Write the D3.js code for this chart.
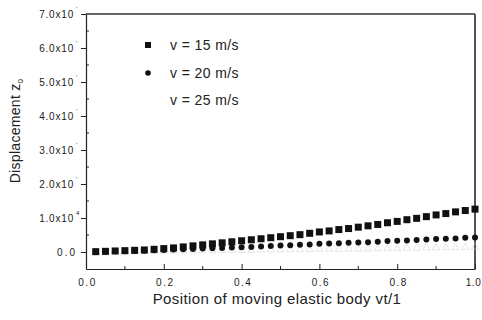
<!DOCTYPE html>
<html>
<head>
<meta charset="utf-8">
<script src="https://cdn.jsdelivr.net/npm/d3@7"></script>
<style>
  body { margin: 0; background: #fff; }
  text { font-family: "Liberation Sans", Arial, sans-serif; fill: #222; }
</style>
</head>
<body>
<div id="chart"></div>
<script>
// positions along the body (vt/l)
const positions = [0.025, 0.05, 0.075, 0.1, 0.125, 0.15, 0.175, 0.2, 0.225, 0.25,
  0.275, 0.3, 0.325, 0.35, 0.375, 0.4, 0.425, 0.45, 0.475, 0.5,
  0.525, 0.55, 0.575, 0.6, 0.625, 0.65, 0.675, 0.7, 0.725, 0.75,
  0.775, 0.8, 0.825, 0.85, 0.875, 0.9, 0.925, 0.95, 0.975, 1.0];

// displacement, in units of 1e-4 (axis ticks are 1.0x10^4 etc)
const v15 = [0.1, 0.2, 0.3, 0.4, 0.5, 0.6, 0.8, 1.0, 1.2, 1.5,
  1.8, 2.1, 2.4, 2.7, 3.0, 3.3, 3.6, 3.9, 4.2, 4.5,
  4.8, 5.1, 5.5, 5.9, 6.2, 6.6, 6.9, 7.3, 7.7, 8.1,
  8.6, 9.0, 9.5, 9.9, 10.4, 10.9, 11.3, 11.8, 12.2, 12.6];
const v20 = [0.1, 0.1, 0.2, 0.2, 0.3, 0.4, 0.5, 0.6, 0.7, 0.8,
  0.9, 1.0, 1.1, 1.2, 1.3, 1.4, 1.5, 1.6, 1.8, 1.9,
  2.0, 2.1, 2.2, 2.4, 2.5, 2.6, 2.7, 2.8, 2.9, 3.0,
  3.2, 3.3, 3.4, 3.5, 3.7, 3.8, 3.9, 4.0, 4.2, 4.3];
const v25 = [0.0, 0.0, 0.1, 0.1, 0.1, 0.2, 0.2, 0.2, 0.3, 0.3,
  0.3, 0.4, 0.4, 0.4, 0.5, 0.5, 0.5, 0.6, 0.6, 0.6,
  0.7, 0.7, 0.7, 0.8, 0.8, 0.8, 0.9, 0.9, 0.9, 1.0,
  1.0, 1.0, 1.1, 1.1, 1.2, 1.2, 1.3, 1.3, 1.4, 1.4];

const seriesNames = ["v = 15 m/s", "v = 20 m/s", "v = 25 m/s"];
const xTicks = [0, 0.2, 0.4, 0.6, 0.8, 1.0];
const xTickLabels = ["0.0", "0.2", "0.4", "0.6", "0.8", "1.0"];
const yTicks = [0, 10, 20, 30, 40, 50, 60, 70];
const yTickLabels = ["0.0", "1.0x10", "2.0x10", "3.0x10", "4.0x10", "5.0x10", "6.0x10", "7.0x10"];

const width = 482, height = 320;
const plotLeft = 86, plotRight = 475, plotTop = 14, plotBottom = 269;

const svg = d3.select('#chart').append('svg')
  .attr('width', width)
  .attr('height', height);

const x = d3.scaleLinear().domain([0, 1]).range([plotLeft, plotRight]);
const y = d3.scaleLinear().domain([-5, 70]).range([plotBottom, plotTop]);

// frame
svg.append('line').attr('x1', plotLeft).attr('x2', plotRight).attr('y1', plotTop).attr('y2', plotTop)
  .attr('stroke', '#333').attr('stroke-width', 1.5);
svg.append('line').attr('x1', plotRight).attr('x2', plotRight).attr('y1', plotTop).attr('y2', plotBottom)
  .attr('stroke', '#555').attr('stroke-width', 2);

// x axis, ticks pointing in
const xAxis = svg.append('g').attr('transform', `translate(0,${plotBottom})`)
  .call(d3.axisBottom(x).tickValues(xTicks).tickSize(-5).tickSizeOuter(0)
    .tickFormat((d, i) => xTickLabels[i]));
xAxis.select('.domain').attr('stroke', '#222').attr('stroke-width', 1.2);
xAxis.selectAll('.tick line').attr('stroke', '#222');
xAxis.selectAll('.tick text')
  .attr('y', 10)
  .attr('dx', d => d === 1 ? -2 : 1)
  .attr('font-size', 10)
  .attr('letter-spacing', d => d === 1 ? 0.5 : 1.5)
  .style('font-family', '"Liberation Sans", Arial, sans-serif')
  .attr('fill', '#222');
svg.append('g').selectAll('line')
  .data(d3.range(0.1, 1, 0.2))
  .enter().append('line')
  .attr('x1', d => x(d)).attr('x2', d => x(d))
  .attr('y1', plotBottom).attr('y2', plotBottom - 3)
  .attr('stroke', '#222');

// y axis, ticks pointing out
const yAxis = svg.append('g').attr('transform', `translate(${plotLeft},0)`)
  .call(d3.axisLeft(y).tickValues(yTicks).tickSize(5).tickSizeOuter(0)
    .tickFormat((d, i) => yTickLabels[i]));
yAxis.select('.domain').attr('stroke', '#222').attr('stroke-width', 1.2);
yAxis.selectAll('.tick line').attr('stroke', '#222');
yAxis.selectAll('.tick text')
  .attr('x', d => d === 0 ? -9 : -12)
  .attr('font-size', 10)
  .attr('letter-spacing', d => d === 0 ? 2 : 0.8)
  .style('font-family', '"Liberation Sans", Arial, sans-serif')
  .attr('fill', '#222');
yAxis.selectAll('.tick').filter(d => d !== 0)
  .append('text')
  .attr('x', -10)
  .attr('y', -4)
  .attr('text-anchor', 'start')
  .attr('font-size', 6)
  .attr('fill', '#444')
  .text(d => d === 10 ? '4' : "'");
svg.append('g').selectAll('line')
  .data(d3.range(5, 70, 10))
  .enter().append('line')
  .attr('x1', plotLeft).attr('x2', plotLeft + 3)
  .attr('y1', d => y(d)).attr('y2', d => y(d))
  .attr('stroke', '#222');

// axis titles
svg.append('text')
  .attr('x', 277).attr('y', 304)
  .attr('text-anchor', 'middle')
  .attr('font-size', 15)
  .attr('letter-spacing', 0.4)
  .text('Position of moving elastic body  vt/1');

const yt = svg.append('text')
  .attr('transform', 'translate(20,131) rotate(-90)')
  .attr('text-anchor', 'middle')
  .attr('font-size', 14)
  .attr('letter-spacing', 0.3);
yt.append('tspan').text('Displacement  z');
yt.append('tspan').attr('font-size', 8).attr('dy', 3).text('0');

// data points
const squares = positions.map((p, i) => ({ x: p, y: v15[i] }));
const circles = positions.map((p, i) => ({ x: p, y: v20[i] }));
const hollow = positions.map((p, i) => ({ x: p, y: v25[i] }));

svg.append('g').selectAll('path')
  .data(hollow)
  .enter().append('path')
  .attr('d', d3.symbol(d3.symbolTriangle, 22))
  .attr('transform', d => `translate(${x(d.x)},${y(d.y)})`)
  .attr('fill', 'none')
  .attr('stroke', '#ccc')
  .attr('stroke-width', 0.5);

svg.append('g').selectAll('rect')
  .data(squares)
  .enter().append('rect')
  .attr('x', d => x(d.x) - 3.5)
  .attr('y', d => y(d.y) - 3.5)
  .attr('width', 7)
  .attr('height', 7)
  .attr('fill', '#111');

svg.append('g').selectAll('circle')
  .data(circles)
  .enter().append('circle')
  .attr('cx', d => x(d.x))
  .attr('cy', d => y(d.y))
  .attr('r', 3)
  .attr('fill', '#111');

// legend
const legend = svg.append('g');
legend.append('rect').attr('x', 145).attr('y', 42).attr('width', 6).attr('height', 6).attr('fill', '#111');
legend.append('circle').attr('cx', 148).attr('cy', 73).attr('r', 2.8).attr('fill', '#111');
legend.selectAll('text')
  .data(seriesNames)
  .enter().append('text')
  .attr('x', 170)
  .attr('y', (d, i) => 50 + i * 27.5)
  .attr('font-size', 14)
  .attr('letter-spacing', 0.4)
  .text(d => d);
</script>
</body>
</html>
